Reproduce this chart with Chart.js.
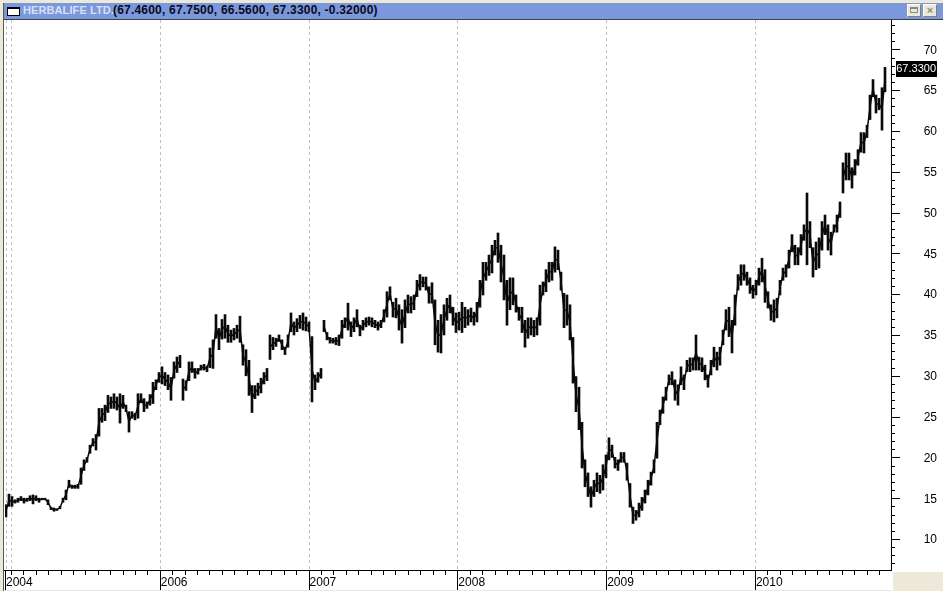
<!DOCTYPE html>
<html>
<head>
<meta charset="utf-8">
<title>Herbalife Ltd.</title>
<script src="https://cdn.jsdelivr.net/npm/chart.js@4"></script>
<style>
  html, body { margin: 0; padding: 0; width: 943px; height: 591px; overflow: hidden; background: #ece9d8; }
  #paper { position: absolute; left: 4px; top: 20px; width: 939px; height: 570px; background: #fff; }
  #corner { position: absolute; left: 892px; top: 571px; width: 51px; height: 20px; background: #ece9d8; border-left: 1px solid #fff; border-top: 1px solid #fff; box-sizing: border-box; }
  #leftline { position: absolute; left: 3px; top: 3px; width: 1px; height: 588px; background: #5a5a50; }
  #titlebar { position: absolute; left: 4px; top: 3px; width: 939px; height: 16px; background: #7b98dd; border-bottom: 1px solid #404040;
    font: bold 12px "Liberation Sans", Arial, sans-serif; line-height: 15px; white-space: nowrap; }
  #icon { position: absolute; left: 3px; top: 4px; width: 13px; height: 9px; background: #fff; border: 1px solid #000; border-top-width: 2px; box-sizing: border-box; }
  #name { position: absolute; left: 19px; top: 0; color: #d6e0f6; font-size: 11px; letter-spacing: 0.1px; }
  #quote { position: absolute; left: 109px; top: 0; color: #0a0a20; letter-spacing: 0.2px; }
  .btn { position: absolute; top: 1px; width: 14px; height: 13px; background: #ece9d8; border: 1px solid #fff; border-right-color: #808080; border-bottom-color: #808080; box-sizing: border-box;
    color: #8a8a80; font: bold 11px "Liberation Sans", Arial, sans-serif; line-height: 10px; text-align: center; }
  .btn i { display: block; width: 8px; height: 6px; margin: 2px auto 0; border: 1px solid #8a8a80; border-top-width: 2px; box-sizing: border-box; }
  #chart { position: absolute; left: 0; top: 0; }
</style>
</head>
<body>
<div id="paper"></div>
<div id="corner"></div>
<canvas id="chart" width="943" height="591"></canvas>
<div id="leftline"></div>
<div id="titlebar">
  <div id="icon"></div>
  <span id="name">HERBALIFE LTD.</span>
  <span id="quote">(67.4600, 67.7500, 66.5600, 67.3300, -0.32000)</span>
  <div class="btn" style="left:903px"><i></i></div>
  <div class="btn" style="left:919px">×</div>
</div>
<script>
const lows = [
  12.7, 14.0, 14.0, 14.4, 14.5, 14.7, 14.4, 14.6, 14.7, 14.3,
  14.7, 14.5, 14.8, 14.8, 14.2, 13.6, 13.4, 13.5, 13.7, 14.5,
  14.8, 16.3, 16.2, 16.2, 16.2, 16.7, 18.4, 19.4, 20.5, 21.4,
  20.9, 22.6, 24.3, 24.5, 25.5, 26.0, 26.0, 25.8, 24.2, 26.0,
  25.6, 23.1, 24.8, 24.6, 24.8, 26.7, 25.6, 26.0, 26.4, 26.6,
  28.3, 29.2, 29.0, 28.8, 28.3, 27.0, 29.7, 30.4, 31.0, 27.0,
  28.2, 29.4, 30.4, 29.7, 30.2, 30.7, 30.7, 30.5, 31.0, 30.9,
  34.6, 33.2, 34.5, 34.6, 34.1, 34.1, 34.4, 34.6, 34.1, 31.3,
  30.0, 27.6, 25.5, 27.2, 27.6, 27.9, 29.0, 29.4, 32.0, 33.2,
  33.6, 34.2, 33.2, 32.6, 33.5, 35.4, 35.0, 35.4, 35.8, 35.6,
  35.5, 35.4, 26.8, 28.3, 29.2, 29.7, 35.4, 34.4, 34.0, 34.0,
  33.8, 33.7, 34.6, 35.9, 35.6, 34.8, 35.4, 36.0, 34.9, 35.6,
  36.0, 36.2, 36.0, 35.9, 35.6, 35.9, 36.6, 37.2, 39.3, 37.2,
  37.1, 35.6, 34.0, 35.9, 37.7, 37.7, 38.1, 39.7, 40.5, 40.9,
  40.5, 38.9, 38.9, 33.8, 32.9, 32.8, 35.0, 36.8, 37.7, 36.2,
  35.3, 35.6, 35.3, 35.9, 36.2, 36.6, 36.2, 36.6, 38.4, 39.9,
  41.7, 42.3, 42.6, 44.8, 43.9, 41.5, 39.3, 36.2, 38.1, 38.7,
  37.8, 36.8, 35.3, 33.5, 34.6, 35.0, 34.8, 35.0, 36.2, 39.9,
  40.3, 41.5, 41.7, 42.7, 43.0, 40.5, 35.9, 36.2, 34.4, 29.1,
  25.6, 23.4, 18.7, 16.4, 15.2, 13.9, 15.2, 15.8, 15.6, 16.0,
  17.5, 19.7, 20.0, 18.7, 18.4, 19.4, 19.4, 17.2, 13.9, 11.9,
  12.3, 12.7, 13.5, 14.4, 15.4, 16.6, 18.1, 19.9, 24.0, 25.4,
  27.0, 28.9, 28.9, 27.0, 26.4, 28.9, 28.3, 30.5, 30.5, 30.7,
  30.7, 30.7, 30.5, 29.5, 28.6, 30.1, 31.1, 30.7, 31.3, 33.8,
  35.6, 34.8, 32.8, 36.2, 40.5, 41.1, 41.7, 41.1, 40.1, 39.5,
  39.9, 41.1, 41.5, 39.0, 38.3, 36.8, 36.6, 37.1, 39.9, 41.7,
  42.1, 43.2, 45.2, 43.6, 43.6, 44.8, 46.6, 43.6, 45.7, 42.1,
  43.0, 43.2, 45.4, 47.3, 45.4, 44.8, 47.6, 47.6, 49.4, 52.4,
  54.0, 54.0, 53.0, 54.6, 55.8, 57.4, 57.3, 59.2, 61.4, 64.2,
  62.2, 62.6, 60.1, 64.8
];
const highs = [
  14.2, 15.5, 15.2, 14.8, 15.0, 15.2, 15.0, 15.0, 15.3, 15.4,
  15.3, 15.0, 15.0, 15.0, 14.8, 13.9, 13.8, 13.7, 14.0, 15.0,
  16.0, 17.2, 16.6, 16.6, 16.7, 18.7, 19.7, 20.0, 21.5, 22.3,
  22.8, 26.0, 26.0, 26.4, 27.6, 27.4, 27.8, 27.4, 27.8, 27.6,
  26.4, 25.6, 25.6, 25.4, 27.8, 27.8, 27.2, 26.8, 27.7, 29.2,
  29.5, 30.4, 31.1, 30.4, 30.1, 29.8, 31.7, 32.3, 32.5, 29.6,
  29.4, 31.7, 31.7, 30.9, 30.9, 31.3, 31.4, 31.2, 33.4, 34.4,
  37.5, 35.8, 36.9, 37.5, 36.2, 35.6, 35.8, 36.2, 37.3, 33.8,
  33.2, 31.9, 28.8, 28.8, 29.1, 29.7, 30.4, 30.9, 35.0, 34.7,
  34.6, 35.0, 34.4, 33.5, 35.0, 37.7, 36.6, 37.0, 37.4, 37.7,
  37.2, 36.6, 34.8, 30.1, 30.4, 30.9, 36.8, 35.3, 34.7, 34.6,
  34.7, 35.0, 36.8, 37.1, 38.9, 36.6, 37.1, 38.1, 36.2, 36.8,
  37.1, 37.2, 37.1, 36.8, 36.6, 36.8, 38.1, 40.3, 40.9, 39.0,
  39.5, 38.7, 38.1, 39.3, 39.9, 39.7, 39.9, 41.7, 42.4, 42.1,
  42.1, 40.9, 41.4, 39.3, 36.8, 37.5, 38.7, 39.5, 39.9, 38.4,
  37.7, 37.8, 39.0, 38.4, 38.1, 38.3, 37.8, 39.0, 41.7, 43.9,
  43.9, 44.8, 46.0, 46.6, 47.5, 46.0, 44.8, 41.7, 42.0, 42.0,
  39.9, 38.4, 38.4, 36.8, 37.1, 37.1, 36.8, 37.1, 41.1, 41.5,
  43.0, 43.9, 43.9, 45.8, 45.4, 42.7, 40.1, 39.9, 38.7, 34.7,
  29.9, 28.6, 24.3, 19.7, 18.1, 16.4, 17.2, 18.1, 17.8, 19.1,
  20.3, 22.4, 21.5, 20.0, 19.7, 20.6, 20.6, 19.3, 16.8, 13.9,
  13.5, 14.4, 15.1, 16.0, 17.2, 18.2, 19.7, 24.3, 25.8, 27.4,
  28.6, 30.1, 30.5, 29.5, 28.9, 31.1, 30.1, 31.9, 32.2, 32.2,
  35.0, 32.3, 32.2, 31.3, 30.1, 31.9, 33.5, 32.9, 33.5, 35.6,
  38.1, 38.4, 36.8, 39.9, 42.4, 43.6, 43.6, 42.7, 42.0, 41.1,
  41.7, 43.2, 44.4, 43.0, 40.3, 38.7, 39.3, 39.5, 41.7, 43.2,
  43.6, 45.4, 47.3, 46.0, 45.7, 47.3, 48.5, 52.4, 48.9, 45.7,
  46.4, 46.9, 48.9, 49.7, 48.5, 47.6, 48.5, 49.7, 51.3, 56.1,
  57.3, 57.3, 55.5, 56.5, 57.7, 59.8, 59.8, 60.7, 64.4, 66.3,
  64.4, 64.0, 65.3, 67.8
];
const yearLabels = ["2004", "2006", "2007", "2008", "2009", "2010"];
const yearMonths = [null, 12, 24, 36, 48, 60]; // months after the first grid line
const priceLabels = [10, 15, 20, 25, 30, 35, 40, 45, 50, 55, 60, 65, 70];
const lastClose = 67.33;

const barsPerMonth = 4.133;
const firstMonthBar = 1.67;
const monthCount = 71;
const monthBar = (m) => firstMonthBar + m * barsPerMonth;
const axisFont = { family: "'Liberation Sans', Arial, sans-serif", size: 12 };
const inkColor = "#0a0a0a";

const axisMarks = {
  id: "axisMarks",
  beforeDatasetsDraw(chart) {
    const { ctx, chartArea: a, scales: { x } } = chart;
    ctx.save();
    ctx.strokeStyle = "#c0c0c0";
    ctx.setLineDash([3, 3]);
    const lines = [a.left + 0.5, x.getPixelForValue(monthBar(0))];
    yearMonths.forEach((m) => { if (m !== null) lines.push(x.getPixelForValue(monthBar(m))); });
    lines.forEach((px) => {
      ctx.beginPath();
      ctx.moveTo(Math.round(px) + 0.5, a.top);
      ctx.lineTo(Math.round(px) + 0.5, a.bottom);
      ctx.stroke();
    });
    ctx.restore();
  },
  afterDraw(chart) {
    const { ctx, chartArea: a, scales: { x, y } } = chart;
    ctx.save();
    ctx.strokeStyle = "#000";
    ctx.lineWidth = 1;
    const seg = (x1, y1, x2, y2) => {
      ctx.beginPath();
      ctx.moveTo(x1, y1);
      ctx.lineTo(x2, y2);
      ctx.stroke();
    };
    seg(a.right + 0.5, a.top, a.right + 0.5, a.bottom + 1);
    seg(4, a.bottom + 0.5, a.right, a.bottom + 0.5);
    // price ticks, long ones every 5
    for (let p = Math.ceil(y.min); p <= y.max; p++) {
      const py = Math.round(y.getPixelForValue(p)) + 0.5;
      seg(a.right, py, a.right + (p % 5 === 0 ? 9 : 4), py);
    }
    // month ticks, long ones at the year labels
    for (let m = 0; m < monthCount; m++) {
      const px = Math.round(x.getPixelForValue(monthBar(m))) + 0.5;
      seg(px, a.bottom, px, a.bottom + (yearMonths.includes(m) ? 20 : 5));
    }
    seg(a.left + 0.5, a.bottom, a.left + 0.5, a.bottom + 20);
    // last close tag
    const tagY = Math.round(y.getPixelForValue(lastClose));
    ctx.fillStyle = "#000";
    ctx.fillRect(896, tagY - 10, 41, 16);
    ctx.fillStyle = "#fff";
    ctx.font = "11px " + axisFont.family;
    ctx.textAlign = "right";
    ctx.textBaseline = "middle";
    ctx.fillText(lastClose.toFixed(4), 936, tagY - 2);
    ctx.restore();
  },
};

new Chart(document.getElementById("chart"), {
  type: "bar",
  data: {
    datasets: [
      {
        label: "HERBALIFE LTD.",
        data: lows.map((low, i) => ({ x: i, y: [low, highs[i]] })),
        backgroundColor: inkColor,
        barThickness: 2,
      },
      {
        // thin line through the bars, broken where the price gaps
        type: "line",
        label: "Mid",
        data: lows.map((low, i) => ({ x: i, y: (low + highs[i]) / 2 })),
        borderColor: inkColor,
        borderWidth: 1.5,
        pointRadius: 0,
        tension: 0,
        segment: {
          borderColor(ctx) {
            const a = ctx.p0DataIndex;
            const b = ctx.p1DataIndex;
            const gap = Math.max(lows[b] - highs[a], lows[a] - highs[b]);
            return gap > 1 ? "transparent" : inkColor;
          },
        },
      },
    ],
  },
  options: {
    responsive: false,
    animation: false,
    devicePixelRatio: 1,
    layout: { padding: { left: 5, right: 6, top: 20, bottom: 0 } },
    plugins: { legend: { display: false }, tooltip: { enabled: false } },
    scales: {
      x: {
        type: "linear",
        min: -0.33,
        max: 295,
        offset: false,
        grid: { display: false, drawTicks: false },
        border: { display: false },
        afterBuildTicks(scale) {
          scale.ticks = yearMonths.map((m, i) => ({
            value: m === null ? scale.min : monthBar(m),
            label: yearLabels[i],
          }));
        },
        afterFit(scale) {
          scale.height = 21;
        },
        ticks: {
          autoSkip: false,
          maxRotation: 0,
          align: "start",
          labelOffset: 1,
          padding: 5,
          color: "#000",
          font: axisFont,
          callback(value, index) {
            return yearLabels[index];
          },
        },
      },
      y: {
        position: "right",
        min: 6.2,
        max: 73.6,
        grid: { display: false },
        border: { display: false },
        afterBuildTicks(scale) {
          scale.ticks = priceLabels.map((value) => ({ value }));
        },
        afterFit(scale) {
          scale.width = 46;
        },
        ticks: {
          autoSkip: false,
          crossAlign: "far",
          labelOffset: 1,
          color: "#000",
          font: axisFont,
        },
      },
    },
  },
  plugins: [axisMarks],
});
</script>
</body>
</html>
